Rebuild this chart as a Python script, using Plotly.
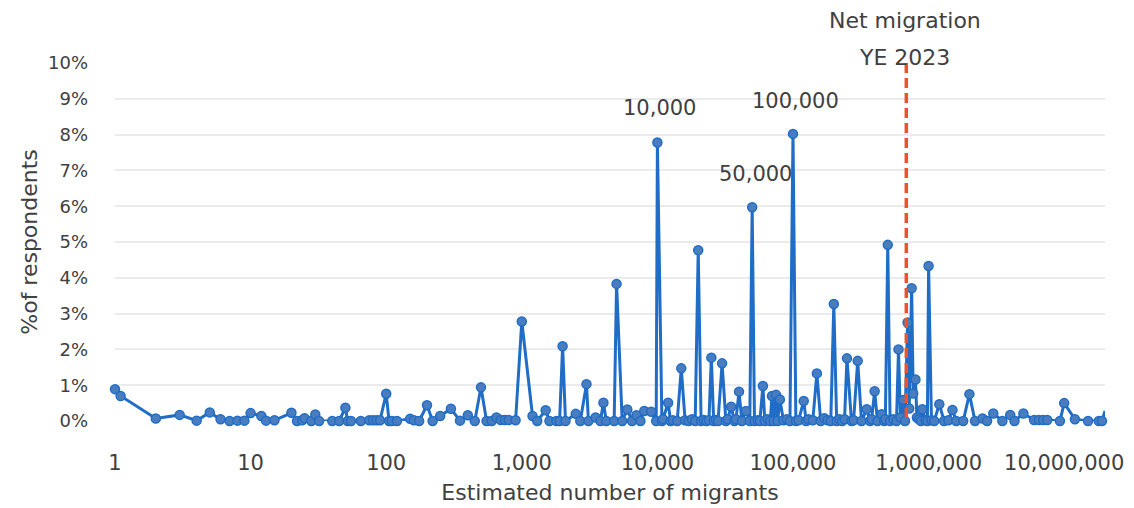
import plotly.graph_objects as go

migrants = [1, 1.1, 2, 3, 4, 5, 6, 7, 8, 9, 10, 12, 13, 15, 20, 22, 24, 25, 28, 30, 32, 40, 45, 50, 52, 55, 65, 75, 80, 85, 90,
            100, 105, 110, 120, 150, 160, 175, 200, 220, 250, 300, 350, 400, 450, 500, 550, 600, 650, 700, 750, 800, 900,
            1000, 1200, 1300, 1500, 1600, 1800, 1900, 2000, 2100, 2500, 2700, 3000, 3100, 3500, 3800, 4000, 4200, 4800,
            5000, 5500, 6000, 6500, 7000, 7500, 8000, 9000, 9800,
            10000, 10800, 11000, 12000, 12500, 13000, 14000, 15000, 16000, 17000, 18000, 19000, 20000, 21000, 22000, 23000,
            24000, 25000, 26000, 27000, 28000, 30000, 32000, 33000, 35000, 37000, 38000, 40000, 42000, 45000, 48000,
            50000, 52000, 55000, 57000, 60000, 62000, 65000, 68000, 70000, 72000, 75000, 77000, 80000, 85000, 90000, 95000,
            100000, 105000, 110000, 120000, 125000, 130000, 140000, 150000, 160000, 170000, 180000, 190000,
            200000, 210000, 220000, 230000, 240000, 250000, 270000, 280000, 300000, 320000, 350000, 370000, 380000,
            400000, 420000, 450000, 470000, 480000, 500000, 520000, 550000, 580000, 600000, 620000, 650000, 670000,
            700000, 720000, 750000, 770000, 800000, 820000, 850000, 880000, 900000, 950000, 980000,
            1000000, 1050000, 1100000, 1200000, 1300000, 1400000, 1500000, 1600000, 1800000, 2000000, 2200000,
            2500000, 2700000, 3000000, 3500000, 4000000, 4300000, 5000000, 6000000, 6500000, 7000000, 7500000, 9300000,
            10000000, 12000000, 15000000, 18000000, 19000000, 20000000]

pct = [0.89, 0.70, 0.07, 0.17, 0.01, 0.24, 0.05, 0.0, 0.01, 0.01, 0.22, 0.14, 0.01, 0.02, 0.23, 0.0, 0.02, 0.08, 0.0, 0.18, 0.0, 0.0, 0.0, 0.37, 0.0, 0.0, 0.0, 0.02, 0.02, 0.02, 0.02,
       0.76, 0.0, 0.0, 0.0, 0.06, 0.02, 0.0, 0.44, 0.0, 0.14, 0.34, 0.01, 0.16, 0.0, 0.94, 0.0, 0.0, 0.10, 0.03, 0.03, 0.03, 0.02,
       2.78, 0.14, 0.0, 0.30, 0.0, 0.0, 0.0, 2.09, 0.0, 0.20, 0.0, 1.03, 0.0, 0.10, 0.0, 0.51, 0.0, 0.0,
       3.83, 0.0, 0.32, 0.0, 0.16, 0.0, 0.28, 0.26, 0.0,
       7.78, 0.0, 0.05, 0.51, 0.0, 0.02, 0.0, 1.47, 0.02, 0.0, 0.05, 0.0, 4.77, 0.0, 0.03, 0.0,
       0.02, 1.77, 0.0, 0.03, 0.0, 1.61, 0.0, 0.05, 0.40, 0.0, 0.05, 0.82, 0.0, 0.28, 0.0,
       5.97, 0.0, 0.02, 0.0, 0.98, 0.0, 0.05, 0.0, 0.70, 0.0, 0.73, 0.0, 0.60, 0.02, 0.05, 0.0,
       8.02, 0.0, 0.02, 0.56, 0.0, 0.05, 0.02, 1.33, 0.0, 0.08, 0.02, 0.0,
       3.27, 0.0, 0.05, 0.0, 0.05, 1.75, 0.0, 0.02, 1.68, 0.0, 0.33, 0.0, 0.05,
       0.83, 0.0, 0.19, 0.0, 0.05, 4.92, 0.0, 0.05, 0.0, 2.00, 0.10, 0.59, 0.0,
       2.75, 0.35, 3.71, 0.77, 1.16, 0.10, 0.05, 0.0, 0.33, 0.02, 0.0,
       4.33, 0.02, 0.0, 0.47, 0.0, 0.02, 0.31, 0.0, 0.0, 0.75, 0.0,
       0.07, 0.0, 0.21, 0.0, 0.17, 0.0, 0.21, 0.03, 0.03, 0.03, 0.03, 0.0,
       0.50, 0.05, 0.0, 0.0, 0.0, 0.28]

net_migration = 685000
x_ticks = [1, 10, 100, 1000, 10000, 100000, 1000000, 10000000]
x_tick_labels = ["1", "10", "100", "1,000", "10,000", "100,000", "1,000,000", "10,000,000"]
y_ticks = list(range(0, 11))
y_tick_labels = [f"{v}%" for v in y_ticks]
peak_texts = ["10,000", "100,000", "50,000"]

FONT = "DejaVu Sans"
TXT = "#404040"

fig = go.Figure()
fig.add_trace(go.Scatter(
    x=migrants, y=pct, mode="lines+markers",
    line=dict(color="#1f6dc6", width=3),
    marker=dict(size=9, color="#4a7dc0", line=dict(color="#1f6dc6", width=1.5)),
    cliponaxis=False, showlegend=False,
))
fig.add_trace(go.Scatter(
    x=[net_migration, net_migration], y=[10, 0], mode="lines",
    line=dict(color="#f0502a", width=3.5, dash="10px,5px"),
    showlegend=False, hoverinfo="skip", cliponaxis=False,
))

ann_pos = [(4.019, 8.74), (5.022, 8.93), (4.72, 6.9)]
for (ax, ay), t in zip(ann_pos, peak_texts):
    fig.add_annotation(x=ax, y=ay, xref="x", yref="y", text=t, showarrow=False, yanchor="middle",
                       font=dict(family=FONT, size=21, color=TXT))
fig.add_annotation(x=5.826, y=1, xref="x", yref="paper", yshift=43, yanchor="middle", text="Net migration",
                   showarrow=False, font=dict(family=FONT, size=22, color=TXT))
fig.add_annotation(x=5.826, y=1, xref="x", yref="paper", yshift=6, yanchor="middle", text="YE 2023",
                   showarrow=False, font=dict(family=FONT, size=22, color=TXT))

fig.update_layout(
    width=1134, height=508,
    margin=dict(l=115, r=29, t=63, b=87),
    paper_bgcolor="white", plot_bgcolor="white",
    font=dict(family=FONT, color=TXT),
)
fig.update_xaxes(
    type="log", range=[0, 7.301], tickvals=x_ticks, ticktext=x_tick_labels,
    showgrid=False, zeroline=False, showline=False, ticks="", automargin=False,
    tickfont=dict(family=FONT, size=21, color=TXT), ticklabelstandoff=27,
    title=dict(text="Estimated number of migrants", font=dict(family=FONT, size=22, color=TXT), standoff=10),
)
fig.update_yaxes(
    range=[0, 10], tickvals=y_ticks, ticktext=y_tick_labels,
    showgrid=True, gridcolor="#ebebeb", gridwidth=1.5, zeroline=False, showline=False, ticks="", automargin=False,
    tickfont=dict(family=FONT, size=18, color=TXT), ticklabelstandoff=26,
    title=dict(text="%of respondents", font=dict(family=FONT, size=22, color=TXT), standoff=4),
)

fig.write_html("out.html")
